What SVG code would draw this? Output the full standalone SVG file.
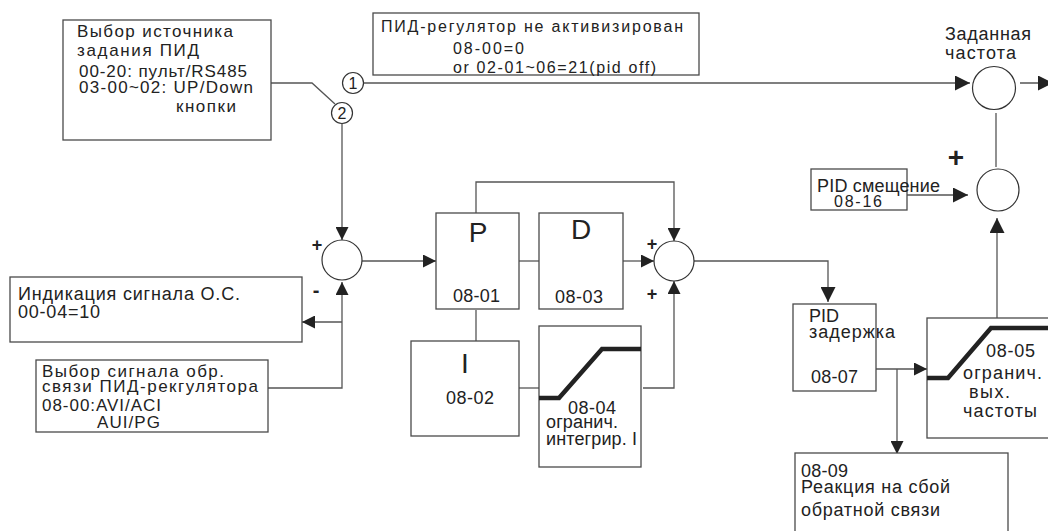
<svg xmlns="http://www.w3.org/2000/svg" width="1048" height="531" viewBox="0 0 1048 531">
<style>
.bx{fill:#fff;stroke:#4a4a4a;stroke-width:1.3}
.ln{fill:none;stroke:#555;stroke-width:1.3}
.cr{fill:#fff;stroke:#333;stroke-width:1.2}
.thk{fill:none;stroke:#222;stroke-width:4.5}
text{font-family:"Liberation Sans",Arial,sans-serif;fill:#222}
.t17{font-size:17px}
.t18{font-size:18px}
.t16{font-size:16px}
.big{font-size:28px}
.pl{font-size:18px;font-weight:bold}
.mid{text-anchor:middle}
</style>
<defs>
<marker id="a" markerUnits="userSpaceOnUse" viewBox="0 0 13 13" markerWidth="13" markerHeight="13" refX="13" refY="6.5" orient="auto"><path d="M0,0 L13,6.5 L0,13 z" fill="#222"/></marker>
<marker id="b" markerUnits="userSpaceOnUse" viewBox="0 0 15 15" markerWidth="15" markerHeight="15" refX="15" refY="7.5" orient="auto"><path d="M0,0 L15,7.5 L0,15 z" fill="#222"/></marker>
</defs>

<g id="connectors">
<polyline class="ln" points="271,83 312,83 335,104"/>
<line class="ln" x1="364" y1="83" x2="970" y2="83" marker-end="url(#b)"/>
<line class="ln" x1="342" y1="124" x2="342" y2="240" marker-end="url(#a)"/>
<line class="ln" x1="362" y1="261" x2="436" y2="261" marker-end="url(#a)"/>
<polyline class="ln" points="476,213 476,182 674,182 674,241" marker-end="url(#a)"/>
<line class="ln" x1="476" y1="310" x2="476" y2="341"/>
<line class="ln" x1="519" y1="261" x2="539" y2="261"/>
<line class="ln" x1="623" y1="261" x2="654" y2="261" marker-end="url(#a)"/>
<line class="ln" x1="519" y1="388" x2="539" y2="388"/>
<polyline class="ln" points="643,388 674,388 674,281" marker-end="url(#a)"/>
<polyline class="ln" points="694,261 828,261 828,302" marker-end="url(#b)"/>
<line class="ln" x1="876" y1="369" x2="927" y2="369" marker-end="url(#a)"/>
<line class="ln" x1="897" y1="369" x2="897" y2="454" marker-end="url(#a)"/>
<line class="ln" x1="997" y1="318" x2="997" y2="218" marker-end="url(#b)"/>
<line class="ln" x1="907" y1="195" x2="968" y2="195" marker-end="url(#b)"/>
<line class="ln" x1="996" y1="113" x2="996" y2="167"/>
<line class="ln" x1="1020" y1="83" x2="1053" y2="83" marker-end="url(#b)"/>
<polyline class="ln" points="268,388 342,388 342,282" marker-end="url(#a)"/>
<line class="ln" x1="342" y1="322" x2="302" y2="322" marker-end="url(#a)"/>
</g>

<g id="src-select">
<rect class="bx" x="63" y="20" width="208" height="120"/>
<text class="t17" x="77" y="37" textLength="156" lengthAdjust="spacing">Выбор источника</text>
<text class="t17" x="77" y="56" textLength="122" lengthAdjust="spacing">задания ПИД</text>
<text class="t17" x="79" y="77" textLength="168" lengthAdjust="spacing">00-20: пульт/RS485</text>
<text class="t17" x="79" y="93" textLength="174" lengthAdjust="spacing">03-00~02: UP/Down</text>
<text class="t17" x="176" y="112" textLength="60" lengthAdjust="spacing">кнопки</text>
</g>

<g id="switch">
<circle class="cr" cx="353" cy="83" r="10.5"/>
<text class="t16 mid" x="353" y="89">1</text>
<circle class="cr" cx="342" cy="113" r="10.5"/>
<text class="t16 mid" x="342" y="119">2</text>
</g>

<g id="pid-off">
<rect class="bx" x="373" y="13" width="326" height="62"/>
<text class="t16" x="381" y="32" textLength="302" lengthAdjust="spacing">ПИД-регулятор не активизирован</text>
<text class="t16" x="453" y="54" textLength="71" lengthAdjust="spacing">08-00=0</text>
<text class="t16" x="453" y="73" textLength="203" lengthAdjust="spacing">or  02-01~06=21(pid off)</text>
</g>

<g id="freq-sum">
<text class="t18" x="945" y="40" textLength="86" lengthAdjust="spacing">Заданная</text>
<text class="t18" x="945" y="59" textLength="71" lengthAdjust="spacing">частота</text>
<circle class="cr" cx="994" cy="88" r="21.5"/>
</g>

<g id="offset-sum">
<circle class="cr" cx="998" cy="190" r="21"/>
<text x="956" y="167" style="font-size:28px;font-weight:bold" class="mid">+</text>
</g>

<g id="pid-offset">
<rect class="bx" x="811" y="169" width="96" height="41"/>
<text class="t18" x="817" y="192" textLength="123" lengthAdjust="spacing">PID смещение</text>
<text class="t16" x="834" y="207" textLength="48" lengthAdjust="spacing">08-16</text>
</g>

<g id="err-sum">
<circle class="cr" cx="342" cy="260" r="20"/>
<text class="pl mid" x="317" y="251">+</text>
<text class="mid" x="316" y="297" style="font-size:20px;font-weight:bold">-</text>
</g>

<g id="fb-display">
<rect class="bx" x="10" y="277" width="292" height="65"/>
<text class="t18" x="18" y="300" textLength="222" lengthAdjust="spacing">Индикация сигнала О.С.</text>
<text class="t18" x="18" y="318" textLength="82" lengthAdjust="spacing">00-04=10</text>
</g>

<g id="fb-select">
<rect class="bx" x="36" y="360" width="232" height="72"/>
<text class="t17" x="42" y="377" textLength="182" lengthAdjust="spacing">Выбор сигнала обр.</text>
<text class="t17" x="42" y="392" textLength="216" lengthAdjust="spacing">связи ПИД-рекгулятора</text>
<text class="t17" x="42" y="411" textLength="119" lengthAdjust="spacing">08-00:AVI/ACI</text>
<text class="t17" x="97" y="428" textLength="63" lengthAdjust="spacing">AUI/PG</text>
</g>

<g id="p-block">
<rect class="bx" x="436" y="213" width="83" height="96"/>
<text class="big mid" x="478" y="242">P</text>
<text class="t18" x="453" y="302" textLength="47" lengthAdjust="spacing">08-01</text>
</g>

<g id="d-block">
<rect class="bx" x="539" y="213" width="84" height="96"/>
<text class="big mid" x="581" y="239">D</text>
<text class="t18" x="555" y="303" textLength="48" lengthAdjust="spacing">08-03</text>
</g>

<g id="i-block">
<rect class="bx" x="411" y="341" width="108" height="95"/>
<text class="big mid" x="465" y="373">I</text>
<text class="t18" x="446" y="404" textLength="48" lengthAdjust="spacing">08-02</text>
</g>

<g id="i-limit">
<rect class="bx" x="539" y="326" width="102" height="141"/>
<polyline class="thk" points="539,398 559,398 602,349 641,349"/>
<text class="t18" x="568" y="414" textLength="48" lengthAdjust="spacing">08-04</text>
<text class="t18" x="546" y="428" textLength="72" lengthAdjust="spacing">огранич.</text>
<text class="t18" x="546" y="445" textLength="91" lengthAdjust="spacing">интегрир. I</text>
</g>

<g id="pid-sum">
<circle class="cr" cx="674" cy="261" r="20"/>
<text class="pl mid" x="652" y="250">+</text>
<text class="pl mid" x="652" y="300">+</text>
</g>

<g id="pid-delay">
<rect class="bx" x="793" y="304" width="83" height="87"/>
<text class="t18" x="809" y="322" textLength="30" lengthAdjust="spacing">PID</text>
<text class="t18" x="809" y="338" textLength="86" lengthAdjust="spacing">задержка</text>
<text class="t18" x="811" y="383" textLength="47" lengthAdjust="spacing">08-07</text>
</g>

<g id="out-limit">
<rect class="bx" x="927" y="318" width="140" height="120"/>
<polyline class="thk" points="927,378 948,378 991,328 1050,328"/>
<text class="t18" x="986" y="357" textLength="49" lengthAdjust="spacing">08-05</text>
<text class="t18" x="963" y="379" textLength="79" lengthAdjust="spacing">огранич.</text>
<text class="t18" x="969" y="398" textLength="41" lengthAdjust="spacing">вых.</text>
<text class="t18" x="963" y="417" textLength="74" lengthAdjust="spacing">частоты</text>
</g>

<g id="fb-fault">
<rect class="bx" x="795" y="453" width="213" height="90"/>
<text class="t18" x="801" y="477" textLength="47" lengthAdjust="spacing">08-09</text>
<text class="t18" x="801" y="493" textLength="149" lengthAdjust="spacing">Реакция на сбой</text>
<text class="t18" x="801" y="516" textLength="139" lengthAdjust="spacing">обратной связи</text>
</g>
</svg>
